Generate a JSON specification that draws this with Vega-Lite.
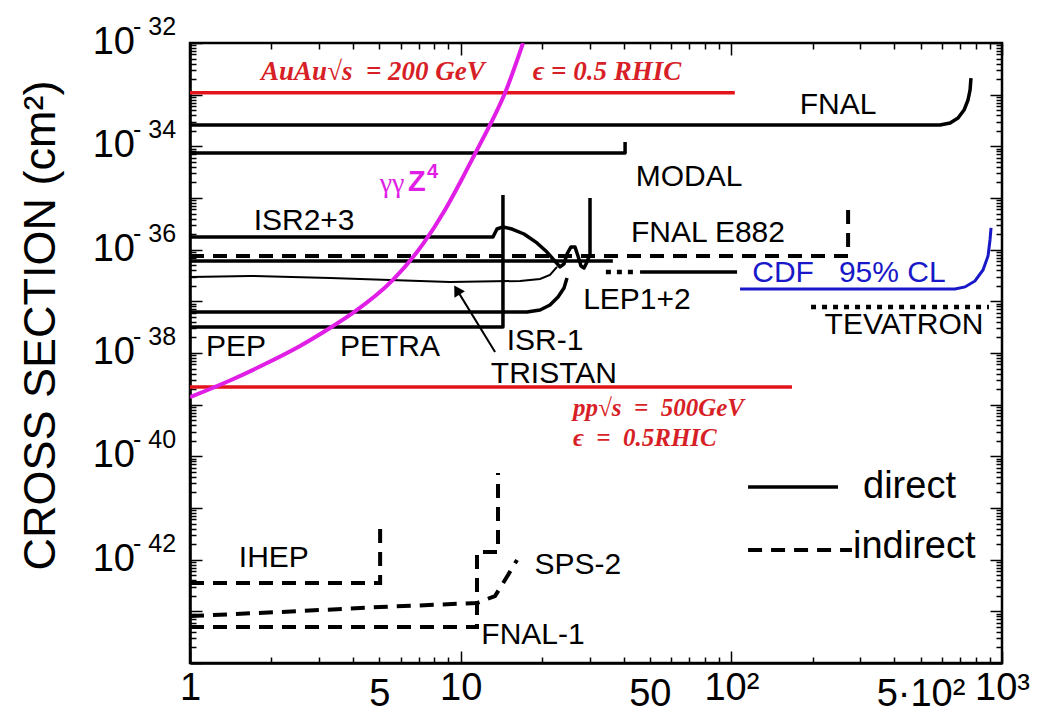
{
  "$schema": "https://vega.github.io/schema/vega-lite/v6.json",
  "width": 812,
  "height": 620,
  "autosize": {"type": "none"},
  "padding": {"left": 190, "top": 43, "right": 36, "bottom": 63},
  "background": "white",
  "config": {"view": {"stroke": "black", "strokeWidth": 2.5}, "font": "Liberation Sans"},
  "datasets": {
    "lines": [
      {"id": "FNAL", "k": "solid", "i": 0, "x": 1, "y": 2.59e-34},
      {"id": "FNAL", "k": "solid", "i": 1, "x": 590, "y": 2.59e-34},
      {"id": "FNAL", "k": "solid", "i": 2, "x": 643, "y": 2.83e-34},
      {"id": "FNAL", "k": "solid", "i": 3, "x": 688, "y": 3.53e-34},
      {"id": "FNAL", "k": "solid", "i": 4, "x": 724, "y": 5.04e-34},
      {"id": "FNAL", "k": "solid", "i": 5, "x": 749, "y": 7.88e-34},
      {"id": "FNAL", "k": "solid", "i": 6, "x": 762, "y": 1.23e-33},
      {"id": "FNAL", "k": "solid", "i": 7, "x": 768, "y": 2.1e-33},
      {"id": "MODAL", "k": "solid", "i": 0, "x": 1, "y": 7.43e-35},
      {"id": "MODAL", "k": "solid", "i": 1, "x": 40.5, "y": 7.43e-35},
      {"id": "MODAL", "k": "solid", "i": 2, "x": 40.5, "y": 1.21e-34},
      {"id": "ISR23", "k": "solid", "i": 0, "x": 1, "y": 1.76e-36},
      {"id": "ISR23", "k": "solid", "i": 1, "x": 13.16, "y": 1.76e-36},
      {"id": "ISR23", "k": "solid", "i": 2, "x": 13.62, "y": 2.51e-36},
      {"id": "ISR23", "k": "solid", "i": 3, "x": 14.33, "y": 2.75e-36},
      {"id": "ISR23", "k": "solid", "i": 4, "x": 15.48, "y": 2.51e-36},
      {"id": "ISR23", "k": "solid", "i": 5, "x": 17.14, "y": 2.01e-36},
      {"id": "ISR23", "k": "solid", "i": 6, "x": 19.14, "y": 1.35e-36},
      {"id": "ISR23", "k": "solid", "i": 7, "x": 20.84, "y": 9.0e-37},
      {"id": "ISR23", "k": "solid", "i": 8, "x": 22.12, "y": 6.3e-37},
      {"id": "ISR23", "k": "solid", "i": 9, "x": 23.28, "y": 4.63e-37},
      {"id": "ISR23", "k": "solid", "i": 10, "x": 24.09, "y": 5.29e-37},
      {"id": "ISR23", "k": "solid", "i": 11, "x": 24.71, "y": 8.24e-37},
      {"id": "ISR23", "k": "solid", "i": 12, "x": 25.56, "y": 1.13e-36},
      {"id": "ISR23", "k": "solid", "i": 13, "x": 26.45, "y": 1.13e-36},
      {"id": "ISR23", "k": "solid", "i": 14, "x": 27.13, "y": 7.55e-37},
      {"id": "ISR23", "k": "solid", "i": 15, "x": 27.83, "y": 4.83e-37},
      {"id": "ISR23", "k": "solid", "i": 16, "x": 28.56, "y": 4.42e-37},
      {"id": "ISR23", "k": "solid", "i": 17, "x": 29.29, "y": 5.78e-37},
      {"id": "ISR23", "k": "solid", "i": 18, "x": 30.05, "y": 8.24e-37},
      {"id": "ISR23", "k": "solid", "i": 19, "x": 30.05, "y": 1.0e-35},
      {"id": "S261", "k": "solid", "i": 0, "x": 1, "y": 6.04e-37},
      {"id": "S261", "k": "solid", "i": 1, "x": 36.5, "y": 6.04e-37},
      {"id": "ISR1", "k": "solid", "i": 0, "x": 1, "y": 6.2e-38},
      {"id": "ISR1", "k": "solid", "i": 1, "x": 17.58, "y": 6.2e-38},
      {"id": "ISR1", "k": "solid", "i": 2, "x": 19.64, "y": 6.8e-38},
      {"id": "ISR1", "k": "solid", "i": 3, "x": 21.38, "y": 8.5e-38},
      {"id": "ISR1", "k": "solid", "i": 4, "x": 22.89, "y": 1.21e-37},
      {"id": "ISR1", "k": "solid", "i": 5, "x": 24.09, "y": 1.81e-37},
      {"id": "ISR1", "k": "solid", "i": 6, "x": 24.71, "y": 2.83e-37},
      {"id": "PEP", "k": "solid", "i": 0, "x": 1, "y": 3.19e-38},
      {"id": "PEP", "k": "solid", "i": 1, "x": 14.33, "y": 3.19e-38},
      {"id": "PEP", "k": "solid", "i": 2, "x": 14.33, "y": 1.14e-35},
      {"id": "LEPs", "k": "solid", "i": 0, "x": 46, "y": 3.7e-37},
      {"id": "LEPs", "k": "solid", "i": 1, "x": 105, "y": 3.7e-37},
      {"id": "LegS", "k": "solid", "i": 0, "x": 115.3, "y": 2.55e-41},
      {"id": "LegS", "k": "solid", "i": 1, "x": 247.8, "y": 2.55e-41},
      {"id": "TRISTAN", "k": "thin", "i": 0, "x": 1, "y": 2.96e-37},
      {"id": "TRISTAN", "k": "thin", "i": 1, "x": 1.666, "y": 3.1e-37},
      {"id": "TRISTAN", "k": "thin", "i": 2, "x": 3.29, "y": 2.83e-37},
      {"id": "TRISTAN", "k": "thin", "i": 3, "x": 9.13, "y": 2.37e-37},
      {"id": "TRISTAN", "k": "thin", "i": 4, "x": 16.57, "y": 2.48e-37},
      {"id": "TRISTAN", "k": "thin", "i": 5, "x": 19.64, "y": 2.71e-37},
      {"id": "TRISTAN", "k": "thin", "i": 6, "x": 21.38, "y": 3.24e-37},
      {"id": "TRISTAN", "k": "thin", "i": 7, "x": 22.7, "y": 4.63e-37},
      {"id": "Arrow", "k": "thin", "i": 0, "x": 13.4, "y": 1.047e-38},
      {"id": "Arrow", "k": "thin", "i": 1, "x": 9.6, "y": 1.8e-37},
      {"id": "E882", "k": "dashed", "i": 0, "x": 1, "y": 7.55e-37},
      {"id": "E882", "k": "dashed", "i": 1, "x": 270, "y": 7.55e-37},
      {"id": "E882", "k": "dashed", "i": 2, "x": 270, "y": 8.0e-36},
      {"id": "IHEP", "k": "dashed", "i": 0, "x": 1, "y": 3.54e-43},
      {"id": "IHEP", "k": "dashed", "i": 1, "x": 5.04, "y": 3.54e-43},
      {"id": "IHEP", "k": "dashed", "i": 2, "x": 5.04, "y": 3.93e-42},
      {"id": "SPS2", "k": "dashed", "i": 0, "x": 1, "y": 8.1e-44},
      {"id": "SPS2", "k": "dashed", "i": 1, "x": 2.15, "y": 9.7e-44},
      {"id": "SPS2", "k": "dashed", "i": 2, "x": 5.04, "y": 1.21e-43},
      {"id": "SPS2", "k": "dashed", "i": 3, "x": 11.49, "y": 1.45e-43},
      {"id": "SPS2", "k": "dashed", "i": 4, "x": 13.39, "y": 1.98e-43},
      {"id": "SPS2", "k": "dashed", "i": 5, "x": 14.58, "y": 4.04e-43},
      {"id": "SPS2", "k": "dashed", "i": 6, "x": 16.15, "y": 9.86e-43},
      {"id": "FNAL1", "k": "dashed", "i": 0, "x": 1, "y": 4.98e-44},
      {"id": "FNAL1", "k": "dashed", "i": 1, "x": 11.49, "y": 4.98e-44},
      {"id": "FNAL1", "k": "dashed", "i": 2, "x": 11.49, "y": 1.41e-42},
      {"id": "FNAL1", "k": "dashed", "i": 3, "x": 13.74, "y": 1.41e-42},
      {"id": "FNAL1", "k": "dashed", "i": 4, "x": 13.74, "y": 4.76e-41},
      {"id": "LegD", "k": "dashed", "i": 0, "x": 115.3, "y": 1.54e-42},
      {"id": "LegD", "k": "dashed", "i": 1, "x": 279, "y": 1.54e-42},
      {"id": "LEPd", "k": "dotted", "i": 0, "x": 34.4, "y": 3.7e-37},
      {"id": "LEPd", "k": "dotted", "i": 1, "x": 44.8, "y": 3.7e-37},
      {"id": "TEV", "k": "dotted", "i": 0, "x": 197, "y": 7.78e-38},
      {"id": "TEV", "k": "dotted", "i": 1, "x": 895, "y": 7.78e-38},
      {"id": "RHIC1", "k": "red", "i": 0, "x": 1, "y": 1.09e-33},
      {"id": "RHIC1", "k": "red", "i": 1, "x": 103, "y": 1.09e-33},
      {"id": "RHIC2", "k": "red", "i": 0, "x": 1, "y": 2.2e-39},
      {"id": "RHIC2", "k": "red", "i": 1, "x": 167.5, "y": 2.2e-39},
      {"id": "CDF", "k": "blue", "i": 0, "x": 107.7, "y": 1.73e-37},
      {"id": "CDF", "k": "blue", "i": 1, "x": 670.6, "y": 1.73e-37},
      {"id": "CDF", "k": "blue", "i": 2, "x": 730, "y": 1.9e-37},
      {"id": "CDF", "k": "blue", "i": 3, "x": 794.8, "y": 2.48e-37},
      {"id": "CDF", "k": "blue", "i": 4, "x": 850.8, "y": 4.04e-37},
      {"id": "CDF", "k": "blue", "i": 5, "x": 888, "y": 7.55e-37},
      {"id": "CDF", "k": "blue", "i": 6, "x": 903, "y": 1.54e-36},
      {"id": "CDF", "k": "blue", "i": 7, "x": 911, "y": 2.63e-36},
      {"id": "GGZ4", "k": "magenta", "i": 0, "x": 1, "y": 1.4e-39},
      {"id": "GGZ4", "k": "magenta", "i": 1, "x": 1.405, "y": 2.94e-39},
      {"id": "GGZ4", "k": "magenta", "i": 2, "x": 1.893, "y": 6.12e-39},
      {"id": "GGZ4", "k": "magenta", "i": 3, "x": 2.55, "y": 1.37e-38},
      {"id": "GGZ4", "k": "magenta", "i": 4, "x": 3.29, "y": 3.05e-38},
      {"id": "GGZ4", "k": "magenta", "i": 5, "x": 4.0, "y": 5.95e-38},
      {"id": "GGZ4", "k": "magenta", "i": 6, "x": 5.62, "y": 2.59e-37},
      {"id": "GGZ4", "k": "magenta", "i": 7, "x": 7.26, "y": 1.29e-36},
      {"id": "GGZ4", "k": "magenta", "i": 8, "x": 8.75, "y": 5.86e-36},
      {"id": "GGZ4", "k": "magenta", "i": 9, "x": 10.2, "y": 2.55e-35},
      {"id": "GGZ4", "k": "magenta", "i": 10, "x": 11.49, "y": 8.5e-35},
      {"id": "GGZ4", "k": "magenta", "i": 11, "x": 12.83, "y": 2.59e-34},
      {"id": "GGZ4", "k": "magenta", "i": 12, "x": 14.58, "y": 1.08e-33},
      {"id": "GGZ4", "k": "magenta", "i": 13, "x": 17.0, "y": 1e-32}
    ],
    "heads": [
      {"x": 9.69, "y": 1.66e-37}
    ],
    "ylabels": [
      {"base": "10", "exp": "- 32", "x": 1, "y": 1e-32},
      {"base": "10", "exp": "- 34", "x": 1, "y": 1e-34},
      {"base": "10", "exp": "- 36", "x": 1, "y": 1e-36},
      {"base": "10", "exp": "- 38", "x": 1, "y": 1e-38},
      {"base": "10", "exp": "- 40", "x": 1, "y": 1e-40},
      {"base": "10", "exp": "- 42", "x": 1, "y": 1e-42}
    ],
    "labels": [
      {"t": "FNAL", "k": "lab", "x": 247.8, "y": 6.31e-34},
      {"t": "MODAL", "k": "lab", "x": 69.8, "y": 2.55e-35},
      {"t": "ISR2+3", "k": "lab", "x": 2.64, "y": 3.59e-36},
      {"t": "FNAL E882", "k": "lab", "x": 82, "y": 2.1e-36},
      {"t": "LEP1+2", "k": "lab", "x": 44.8, "y": 1.06e-37},
      {"t": "TEVATRON", "k": "lab", "x": 434.5, "y": 3.48e-38},
      {"t": "PEP", "k": "lab", "x": 1.48, "y": 1.31e-38},
      {"t": "PETRA", "k": "lab", "x": 5.48, "y": 1.31e-38},
      {"t": "ISR-1", "k": "lab", "x": 20.5, "y": 1.71e-38},
      {"t": "TRISTAN", "k": "lab", "x": 22.1, "y": 3.93e-39},
      {"t": "IHEP", "k": "lab", "x": 2.04, "y": 1.08e-42},
      {"t": "SPS-2", "k": "lab", "x": 27.1, "y": 7.88e-43},
      {"t": "FNAL-1", "k": "lab", "x": 18.5, "y": 3.49e-44},
      {"t": "CDF\u00a0\u00a0\u00a095% CL", "k": "blue", "x": 272, "y": 3.54e-37},
      {"t": "direct", "k": "leg", "x": 306.6, "y": 2.55e-41},
      {"t": "indirect", "k": "leg", "x": 281.5, "y": 1.76e-42},
      {"t": "AuAu√s\u00a0 = 200 GeV", "k": "red", "x": 4.74, "y": 2.75e-33},
      {"t": "ϵ = 0.5 RHIC", "k": "red", "x": 34.7, "y": 2.75e-33},
      {"t": "pp√s\u00a0 =\u00a0 500GeV", "k": "red2", "x": 26.0, "y": 8.63e-40},
      {"t": "ϵ\u00a0 =\u00a0 0.5RHIC", "k": "red2", "x": 26.0, "y": 2.26e-40},
      {"t": "γγ", "k": "mag1", "x": 5.58, "y": 1.9e-35},
      {"t": "Z", "k": "mag2", "x": 6.39, "y": 2.04e-35},
      {"t": "4", "k": "mag3", "x": 6.39, "y": 2.04e-35}
    ]
  },
  "encoding": {
    "x": {"field": "x", "type": "quantitative", "scale": {"type": "log", "domain": [1, 1000], "nice": false}, "axis": null},
    "y": {"field": "y", "type": "quantitative", "scale": {"type": "log", "domain": [1e-44, 1e-32], "nice": false}, "axis": null}
  },
  "layer": [
    {
      "data": {"name": "heads"},
      "mark": {"type": "point", "opacity": 0},
      "encoding": {
        "x": {"field": "x", "type": "quantitative", "scale": {"type": "log", "domain": [1, 1000], "nice": false},
          "axis": {"orient": "bottom", "title": null, "grid": false,
            "values": [1,2,3,4,5,6,7,8,9,10,20,30,40,50,60,70,80,90,100,200,300,400,500,600,700,800,900,1000],
            "labelExpr": "datum.value == 1 ? '1' : datum.value == 5 ? '5' : datum.value == 10 ? '10' : datum.value == 50 ? '50' : datum.value == 100 ? '10²' : datum.value == 500 ? '5·10²' : datum.value == 1000 ? '10³' : ''",
            "labelFont": "Liberation Sans", "labelFontSize": 38, "labelColor": "black", "labelPadding": 18,
            "labelFlush": false, "labelOverlap": false, "labelBound": false,
            "domain": true, "domainColor": "black", "domainWidth": 2.5,
            "tickColor": "black", "tickWidth": 1.5,
            "tickSize": {"condition": {"test": "abs(log(datum.value)/LN10 - round(log(datum.value)/LN10)) < 0.001", "value": -12}, "value": -6}}},
        "y": {"field": "y", "type": "quantitative", "scale": {"type": "log", "domain": [1e-44, 1e-32], "nice": false},
          "axis": {"orient": "left", "grid": false, "labels": false,
            "title": "CROSS SECTION (cm²)", "titleFont": "Liberation Sans", "titleFontSize": 45, "titleFontWeight": "normal", "titleColor": "black",
            "titleAngle": 270, "titleX": -150, "titleY": 282, "titleAlign": "center", "titleBaseline": "middle",
            "values": [1e-44,2e-44,3e-44,4e-44,5e-44,6e-44,7e-44,8e-44,9e-44,1e-43,2e-43,3e-43,4e-43,5e-43,6e-43,7e-43,8e-43,9e-43,1e-42,2e-42,3e-42,4e-42,5e-42,6e-42,7e-42,8e-42,9e-42,1e-41,2e-41,3e-41,4e-41,5e-41,6e-41,7e-41,8e-41,9e-41,1e-40,2e-40,3e-40,4e-40,5e-40,6e-40,7e-40,8e-40,9e-40,1e-39,2e-39,3e-39,4e-39,5e-39,6e-39,7e-39,8e-39,9e-39,1e-38,2e-38,3e-38,4e-38,5e-38,6e-38,7e-38,8e-38,9e-38,1e-37,2e-37,3e-37,4e-37,5e-37,6e-37,7e-37,8e-37,9e-37,1e-36,2e-36,3e-36,4e-36,5e-36,6e-36,7e-36,8e-36,9e-36,1e-35,2e-35,3e-35,4e-35,5e-35,6e-35,7e-35,8e-35,9e-35,1e-34,2e-34,3e-34,4e-34,5e-34,6e-34,7e-34,8e-34,9e-34,1e-33,2e-33,3e-33,4e-33,5e-33,6e-33,7e-33,8e-33,9e-33,1e-32],
            "domain": true, "domainColor": "black", "domainWidth": 2.5,
            "tickColor": "black", "tickWidth": 1.5,
            "tickSize": {"condition": {"test": "abs(log(datum.value)/LN10 - round(log(datum.value)/LN10)) < 0.001", "value": -12}, "value": -6}}}
      }
    },
    {
      "data": {"name": "heads"},
      "mark": {"type": "point", "opacity": 0},
      "encoding": {
        "x": {"field": "x", "type": "quantitative", "scale": {"type": "log", "domain": [1, 1000], "nice": false},
          "axis": {"orient": "top", "title": null, "grid": false, "labels": false, "domain": false,
            "values": [1,2,3,4,5,6,7,8,9,10,20,30,40,50,60,70,80,90,100,200,300,400,500,600,700,800,900,1000],
            "tickColor": "black", "tickWidth": 1.5,
            "tickSize": {"condition": {"test": "abs(log(datum.value)/LN10 - round(log(datum.value)/LN10)) < 0.001", "value": -12}, "value": -6}}},
        "y": {"field": "y", "type": "quantitative", "scale": {"type": "log", "domain": [1e-44, 1e-32], "nice": false},
          "axis": {"orient": "right", "title": null, "grid": false, "labels": false, "domain": false,
            "values": [1e-44,2e-44,3e-44,4e-44,5e-44,6e-44,7e-44,8e-44,9e-44,1e-43,2e-43,3e-43,4e-43,5e-43,6e-43,7e-43,8e-43,9e-43,1e-42,2e-42,3e-42,4e-42,5e-42,6e-42,7e-42,8e-42,9e-42,1e-41,2e-41,3e-41,4e-41,5e-41,6e-41,7e-41,8e-41,9e-41,1e-40,2e-40,3e-40,4e-40,5e-40,6e-40,7e-40,8e-40,9e-40,1e-39,2e-39,3e-39,4e-39,5e-39,6e-39,7e-39,8e-39,9e-39,1e-38,2e-38,3e-38,4e-38,5e-38,6e-38,7e-38,8e-38,9e-38,1e-37,2e-37,3e-37,4e-37,5e-37,6e-37,7e-37,8e-37,9e-37,1e-36,2e-36,3e-36,4e-36,5e-36,6e-36,7e-36,8e-36,9e-36,1e-35,2e-35,3e-35,4e-35,5e-35,6e-35,7e-35,8e-35,9e-35,1e-34,2e-34,3e-34,4e-34,5e-34,6e-34,7e-34,8e-34,9e-34,1e-33,2e-33,3e-33,4e-33,5e-33,6e-33,7e-33,8e-33,9e-33,1e-32],
            "tickColor": "black", "tickWidth": 1.5,
            "tickSize": {"condition": {"test": "abs(log(datum.value)/LN10 - round(log(datum.value)/LN10)) < 0.001", "value": -12}, "value": -6}}}
      }
    },
    {
      "data": {"name": "ylabels"},
      "mark": {"type": "text", "font": "Liberation Sans", "fontSize": 38, "color": "black", "align": "right", "baseline": "middle", "dx": -55},
      "encoding": {"text": {"field": "base"}}
    },
    {
      "data": {"name": "ylabels"},
      "mark": {"type": "text", "font": "Liberation Sans", "fontSize": 25, "color": "black", "align": "left", "baseline": "middle", "dx": -57, "dy": -16},
      "encoding": {"text": {"field": "exp"}}
    },
    {
      "data": {"name": "lines"},
      "transform": [{"filter": "datum.k == 'red'"}],
      "mark": {"type": "line", "color": "#e3131b", "strokeWidth": 3.5, "strokeCap": "butt"},
      "encoding": {"detail": {"field": "id"}, "order": {"field": "i", "type": "quantitative"}}
    },
    {
      "data": {"name": "lines"},
      "transform": [{"filter": "datum.k == 'solid'"}],
      "mark": {"type": "line", "color": "black", "strokeWidth": 3.5, "strokeCap": "butt", "strokeJoin": "round"},
      "encoding": {"detail": {"field": "id"}, "order": {"field": "i", "type": "quantitative"}}
    },
    {
      "data": {"name": "lines"},
      "transform": [{"filter": "datum.k == 'thin'"}],
      "mark": {"type": "line", "color": "black", "strokeWidth": 2, "strokeCap": "butt"},
      "encoding": {"detail": {"field": "id"}, "order": {"field": "i", "type": "quantitative"}}
    },
    {
      "data": {"name": "lines"},
      "transform": [{"filter": "datum.k == 'dashed'"}],
      "mark": {"type": "line", "color": "black", "strokeWidth": 4, "strokeDash": [14, 9], "strokeCap": "butt"},
      "encoding": {"detail": {"field": "id"}, "order": {"field": "i", "type": "quantitative"}}
    },
    {
      "data": {"name": "lines"},
      "transform": [{"filter": "datum.k == 'dotted'"}],
      "mark": {"type": "line", "color": "black", "strokeWidth": 4.5, "strokeDash": [5, 6], "strokeCap": "butt"},
      "encoding": {"detail": {"field": "id"}, "order": {"field": "i", "type": "quantitative"}}
    },
    {
      "data": {"name": "lines"},
      "transform": [{"filter": "datum.k == 'blue'"}],
      "mark": {"type": "line", "color": "#1818c8", "strokeWidth": 3, "strokeCap": "butt"},
      "encoding": {"detail": {"field": "id"}, "order": {"field": "i", "type": "quantitative"}}
    },
    {
      "data": {"name": "lines"},
      "transform": [{"filter": "datum.k == 'magenta'"}],
      "mark": {"type": "line", "color": "#e01ee6", "strokeWidth": 4, "strokeCap": "butt", "clip": true, "interpolate": "monotone"},
      "encoding": {"detail": {"field": "id"}, "order": {"field": "i", "type": "quantitative"}}
    },
    {
      "data": {"name": "heads"},
      "mark": {"type": "point", "shape": "triangle-up", "filled": true, "color": "black", "opacity": 1, "size": 150, "angle": 329}
    },
    {
      "data": {"name": "labels"},
      "transform": [{"filter": "datum.k == 'lab'"}],
      "mark": {"type": "text", "font": "Liberation Sans", "fontSize": 30, "color": "black", "align": "center", "baseline": "middle"},
      "encoding": {"text": {"field": "t"}}
    },
    {
      "data": {"name": "labels"},
      "transform": [{"filter": "datum.k == 'blue'"}],
      "mark": {"type": "text", "font": "Liberation Sans", "fontSize": 30, "color": "#1818c8", "align": "center", "baseline": "middle"},
      "encoding": {"text": {"field": "t"}}
    },
    {
      "data": {"name": "labels"},
      "transform": [{"filter": "datum.k == 'leg'"}],
      "mark": {"type": "text", "font": "Liberation Sans", "fontSize": 38, "color": "black", "align": "left", "baseline": "middle"},
      "encoding": {"text": {"field": "t"}}
    },
    {
      "data": {"name": "labels"},
      "transform": [{"filter": "datum.k == 'red'"}],
      "mark": {"type": "text", "font": "Liberation Serif", "fontSize": 27, "fontWeight": "bold", "fontStyle": "italic", "color": "#d71f27", "align": "center", "baseline": "middle"},
      "encoding": {"text": {"field": "t"}}
    },
    {
      "data": {"name": "labels"},
      "transform": [{"filter": "datum.k == 'red2'"}],
      "mark": {"type": "text", "font": "Liberation Serif", "fontSize": 25, "fontWeight": "bold", "fontStyle": "italic", "color": "#d71f27", "align": "left", "baseline": "middle"},
      "encoding": {"text": {"field": "t"}}
    },
    {
      "data": {"name": "labels"},
      "transform": [{"filter": "datum.k == 'mag1'"}],
      "mark": {"type": "text", "font": "Liberation Serif", "fontSize": 28, "color": "#e01ee6", "align": "center", "baseline": "middle"},
      "encoding": {"text": {"field": "t"}}
    },
    {
      "data": {"name": "labels"},
      "transform": [{"filter": "datum.k == 'mag2'"}],
      "mark": {"type": "text", "font": "Liberation Sans", "fontSize": 29, "fontWeight": "bold", "color": "#e01ee6", "align": "left", "baseline": "middle"},
      "encoding": {"text": {"field": "t"}}
    },
    {
      "data": {"name": "labels"},
      "transform": [{"filter": "datum.k == 'mag3'"}],
      "mark": {"type": "text", "font": "Liberation Sans", "fontSize": 20, "fontWeight": "bold", "color": "#e01ee6", "align": "left", "baseline": "middle", "dx": 19, "dy": -10},
      "encoding": {"text": {"field": "t"}}
    }
  ],
  "resolve": {"axis": {"x": "independent", "y": "independent"}}
}
